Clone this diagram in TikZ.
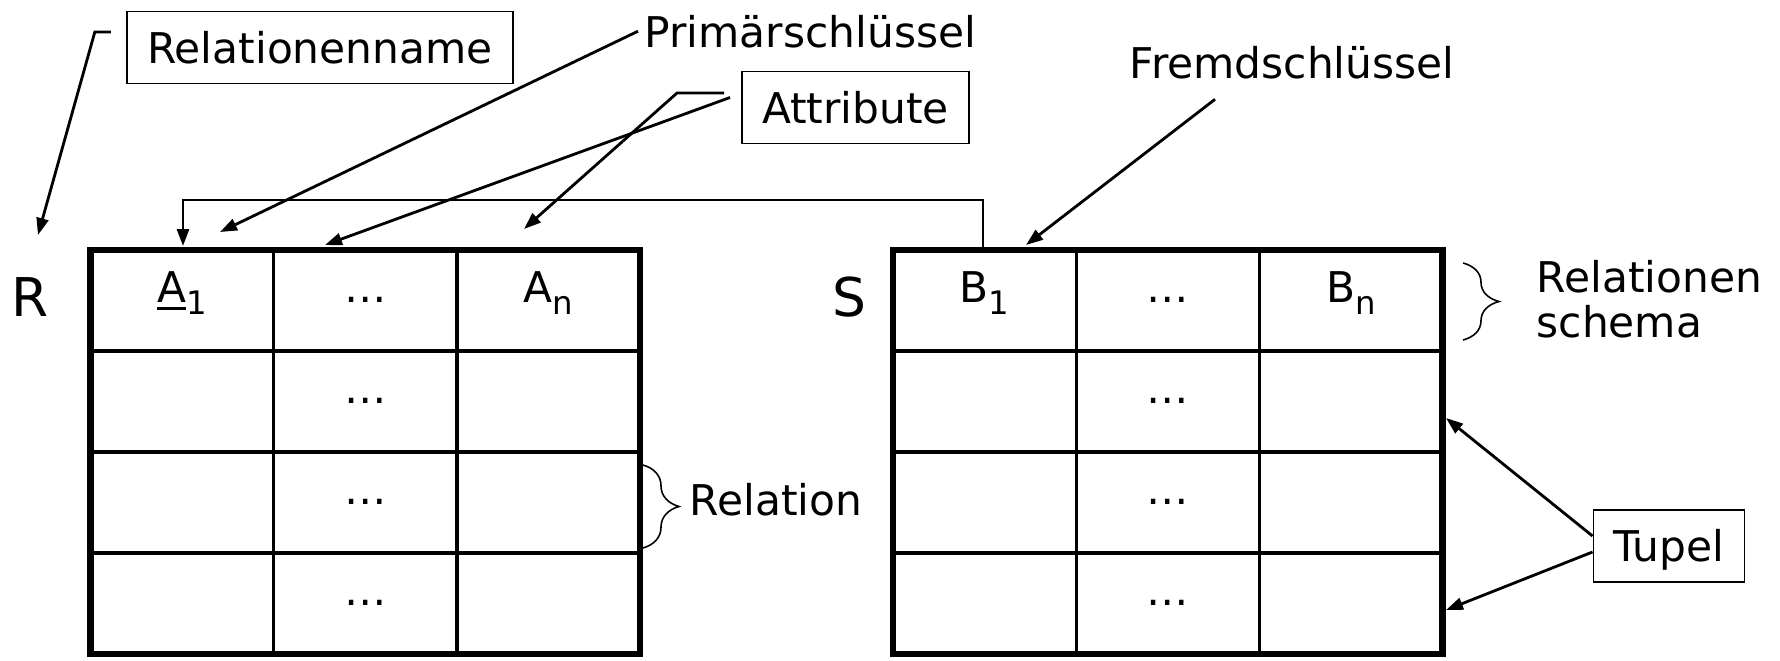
\documentclass[tikz,border=0pt]{standalone}
\usepackage{fontspec}
\setmainfont{DejaVu Sans}
\usepackage{tikz}
\usetikzlibrary{arrows.meta,decorations.pathreplacing}

\newcommand\tsub[1]{\raisebox{-0.12cm}{\fontsize{9.2}{10}\selectfont#1}}
\newcommand\pkey[1]{\setbox0\hbox{#1}\rlap{\rule[-0.075cm]{\wd0}{0.03cm}}#1}

\begin{document}
\begin{tikzpicture}[font=\fontsize{12.05}{12.6}\selectfont,
    namebox/.style={draw, line width=0.55pt, inner xsep=0.2cm, minimum height=0.72cm, text height=0.31cm, text depth=0cm},
    note/.style={inner sep=0pt},
    pointer/.style={line width=0.8pt, -{Triangle[length=0.17cm,width=0.12cm]}},
    gridline/.style={line width=0.95pt},
    frame/.style={line width=1.9pt},
    brace/.style={decorate, decoration={brace, amplitude=0.36cm}, line width=0.45pt},
    tabname/.style={font=\fontsize{15.2}{16}\selectfont, anchor=base},
    cell/.style={anchor=base}]

    \useasboundingbox (0,0) rectangle (17.8,6.6);

    % Tables R and S
    \foreach \tx in {0.905,8.93} {
        \foreach \r in {1,2,3}
            \draw[gridline] (\tx,4.10-\r*1.01) -- ++(5.495,0);
        \foreach \c in {1,2}
            \draw[gridline] (\tx+\c*1.832,4.10) -- ++(0,-4.04);
        \draw[frame] (\tx,0.06) rectangle ++(5.495,4.04);
    }

    % Table names
    \node[tabname] (R) at (0.30,3.44) {R};
    \node[tabname] (S) at (8.495,3.44) {S};

    % Header
    \node[cell] (a1) at (1.821,3.575) {\pkey{A}\tsub{1}};
    \node[cell] (ad) at (3.653,3.575) {\dots};
    \node[cell] (an) at (5.485,3.575) {A\tsub{n}};
    \node[cell] (b1) at (9.846,3.575) {B\tsub{1}};
    \node[cell] (bd) at (11.678,3.575) {\dots};
    \node[cell] (bn) at (13.51,3.575) {B\tsub{n}};

    % Rows
    \foreach \y [count=\i] in {2.565,1.555,0.545} {
        \node[cell] (rd\i) at (3.653,\y) {\dots};
        \node[cell] (sd\i) at (11.678,\y) {\dots};
    }

    % Labels
    \node[namebox] (relname) at (3.20,6.125) {Relationenname};
    \node[note, anchor=base west] (prim) at (6.44,6.13) {Primärschlüssel};
    \node[namebox] (attr) at (8.555,5.525) {Attribute};
    \node[note, anchor=base west] (fremd) at (11.29,5.82) {Fremdschlüssel};
    \node[note, anchor=base west] (rel) at (6.89,1.45) {Relation};
    \node[note, anchor=base west, align=left] (schema) at (15.36,3.23) {Relationen\\schema};
    \node[namebox] (tupel) at (16.69,1.14) {Tupel};

    % Pointer ends
    \coordinate (rtip) at (0.38,4.25);
    \coordinate (ptip) at (2.20,4.28);
    \coordinate (atip1) at (3.25,4.15);
    \coordinate (atip2) at (5.24,4.31);
    \coordinate (ftip) at (10.26,4.15);
    \coordinate (fk) at (9.83,4.10);
    \coordinate (pk) at (1.83,4.14);
    \coordinate (ttip1) at (14.46,2.42);
    \coordinate (ttip2) at (14.46,0.50);

    % Pointers
    \draw[pointer] ([shift={(-0.155,0.155)}]relname.west) -- ++(-0.16,0) -- (rtip);
    \draw[pointer] ([xshift=-0.06cm]prim.west) -- (ptip);
    \draw[pointer] ([shift={(-0.11,0.1)}]attr.west) -- (atip1);
    \draw[pointer] ([shift={(-0.17,0.145)}]attr.west) -- ++(-0.47,0) -- (atip2);
    \draw[pointer] ([shift={(0.86,-0.20)}]fremd.south west) -- (ftip);
    \draw[pointer] (fk) -- ++(0,0.5) -| (pk);
    \draw[pointer] ([yshift=0.1cm]tupel.west) -- (ttip1);
    \draw[pointer] ([yshift=-0.06cm]tupel.west) -- (ttip2);

    % Braces
    \draw[brace] (6.43,1.95) -- (6.43,1.12);
    \draw[brace] (14.63,3.97) -- (14.63,3.20);
\end{tikzpicture}
\end{document}
